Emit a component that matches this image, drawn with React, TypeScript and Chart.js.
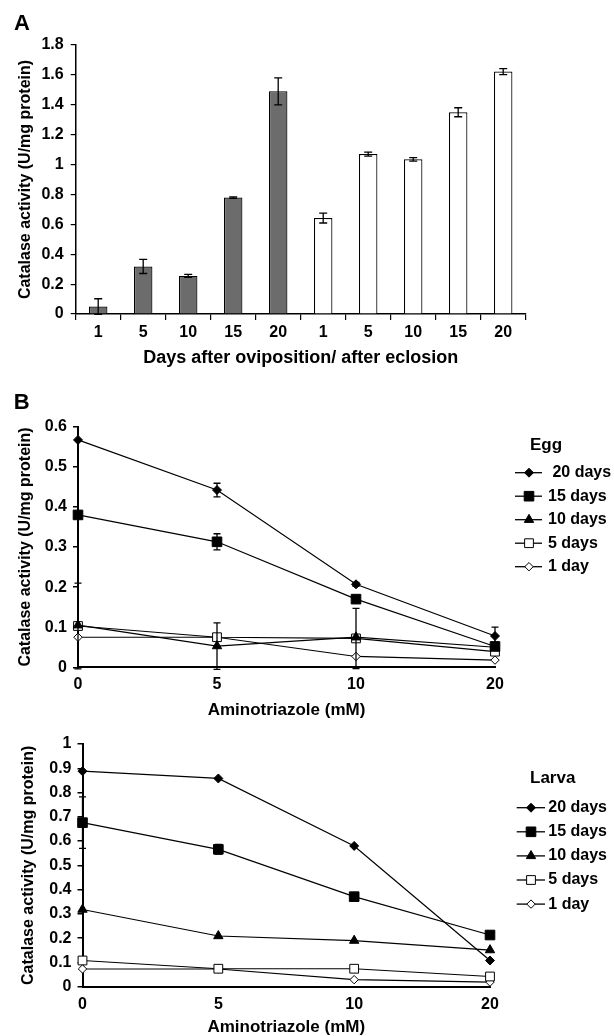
import React, { useEffect, useRef } from 'react';
import { Chart, registerables } from 'chart.js';

Chart.register(...registerables);

const FONT = "'Liberation Sans', Arial, Helvetica, sans-serif";

// ---------- Panel A data ----------
const dayLabels = ['1', '5', '10', '15', '20', '1', '5', '10', '15', '20'];
const stageGroup = ['egg', 'egg', 'egg', 'egg', 'egg', 'adult', 'adult', 'adult', 'adult', 'adult'];
const activityA = [0.05, 0.318, 0.255, 0.779, 1.49, 0.642, 1.07, 1.035, 1.35, 1.622];
const errorA = [0.052, 0.047, 0.01, 0.005, 0.09, 0.033, 0.013, 0.012, 0.03, 0.02];

// ---------- Panel B data ----------
const doseLabels = ['0', '5', '10', '20'];
const seriesNames = ['20 days', '15 days', '10 days', '5 days', '1 day'];
const eggLegendNames = [' 20 days', '15 days', '10 days', '5 days', '1 day'];

const egg20 = [0.567, 0.442, 0.207, 0.078];
const egg15 = [0.38, 0.313, 0.17, 0.052];
const egg10 = [0.105, 0.053, 0.075, 0.05];
const egg5 = [0.103, 0.075, 0.072, 0.039];
const egg1 = [0.075, 0.075, 0.027, 0.018];

const egg20Err = [0, 0.017, 0.005, 0.022];
const egg15Err = [0, 0.02, 0, 0.008];
const egg10Err = [0, 0.058, 0, 0];
const egg5Err = [0.107, 0, 0.075, 0];
const egg1Err = [0, 0, 0, 0];

const larva20 = [0.888, 0.858, 0.58, 0.108];
const larva15 = [0.676, 0.566, 0.371, 0.213];
const larva10 = [0.318, 0.209, 0.19, 0.151];
const larva5 = [0.108, 0.074, 0.074, 0.042];
const larva1 = [0.073, 0.073, 0.029, 0.019];

const larva20Err = [0, 0, 0, 0];
const larva15Err = [0.106, 0.02, 0, 0];
const larva10Err = [0, 0, 0, 0];
const larva5Err = [0, 0, 0, 0];
const larva1Err = [0, 0, 0, 0];

// marker styles per series
const pointStyles = ['rectRot', 'rect', 'triangle', 'rect', 'rectRot'];
const pointFilled = [true, true, true, false, false];
const pointRadii = [4.5, 6.8, 5.4, 6.2, 4.2];

const fmt = (v: any) => String(Math.round(Number(v) * 10) / 10);

function drawMarker(ctx: CanvasRenderingContext2D, style: string, x: number, y: number, r: number, filled: boolean) {
  ctx.beginPath();
  if (style === 'rectRot') {
    ctx.moveTo(x, y - r);
    ctx.lineTo(x + r, y);
    ctx.lineTo(x, y + r);
    ctx.lineTo(x - r, y);
    ctx.closePath();
  } else if (style === 'rect') {
    const s = r * Math.SQRT1_2;
    ctx.rect(x - s, y - s, 2 * s, 2 * s);
  } else {
    for (let k = 0; k < 3; k++) {
      const a = (k * 2 * Math.PI) / 3;
      const px = x + Math.sin(a) * r;
      const py = y - Math.cos(a) * r;
      if (k === 0) ctx.moveTo(px, py);
      else ctx.lineTo(px, py);
    }
    ctx.closePath();
  }
  ctx.fillStyle = filled ? '#000' : '#fff';
  ctx.fill();
  ctx.lineWidth = 1;
  ctx.strokeStyle = '#000';
  ctx.stroke();
}

const errorBarPlugin = {
  id: 'errorBars',
  afterDatasetsDraw(chart: any, _args: any, opts: any) {
    const ctx = chart.ctx;
    const yScale = chart.scales.y;
    const cap = opts.cap ?? 4;
    chart.data.datasets.forEach((ds: any, di: number) => {
      const errs = ds.errors;
      if (!errs) return;
      const meta = chart.getDatasetMeta(di);
      meta.data.forEach((el: any, i: number) => {
        const e = errs[i];
        if (!e) return;
        const v = ds.data[i];
        const x = el.x;
        const yTop = yScale.getPixelForValue(v + e);
        const yBot = yScale.getPixelForValue(v - e);
        ctx.save();
        ctx.strokeStyle = '#000';
        ctx.lineWidth = opts.width ?? 1.3;
        ctx.beginPath();
        ctx.moveTo(x, yTop);
        ctx.lineTo(x, yBot);
        ctx.moveTo(x - cap, yTop);
        ctx.lineTo(x + cap, yTop);
        ctx.moveTo(x - cap, yBot);
        ctx.lineTo(x + cap, yBot);
        ctx.stroke();
        ctx.restore();
      });
    });
  },
};

const annotatePlugin = {
  id: 'annotate',
  afterDraw(chart: any, _args: any, opts: any) {
    const ctx = chart.ctx;
    ctx.save();
    if (opts.panel) {
      ctx.font = `bold ${opts.panel.size}px ${FONT}`;
      ctx.fillStyle = '#000';
      ctx.textAlign = 'center';
      ctx.textBaseline = 'middle';
      ctx.fillText(opts.panel.text, opts.panel.x, opts.panel.y);
    }
    const lg = opts.legend;
    if (lg) {
      ctx.font = `bold ${lg.titleSize}px ${FONT}`;
      ctx.fillStyle = '#000';
      ctx.textAlign = 'left';
      ctx.textBaseline = 'middle';
      ctx.fillText(lg.title, lg.titleX, lg.titleY);
      chart.data.datasets.forEach((ds: any, i: number) => {
        const y = lg.rowY + i * lg.rowGap;
        ctx.strokeStyle = '#000';
        ctx.lineWidth = 1.3;
        ctx.beginPath();
        ctx.moveTo(lg.lineX1, y);
        ctx.lineTo(lg.lineX2, y);
        ctx.stroke();
        drawMarker(ctx, ds.pointStyle, lg.markerX, y, ds.pointRadius, ds.pointBackgroundColor === '#000');
        ctx.font = `bold ${lg.textSize}px ${FONT}`;
        ctx.fillStyle = '#000';
        ctx.textAlign = 'left';
        ctx.textBaseline = 'middle';
        ctx.fillText(lg.names[i], lg.textX, y);
      });
    }
    ctx.restore();
  },
};

const tickFont = { family: FONT, size: 16, weight: 'bold' as const };

function barConfig(): any {
  return {
    type: 'bar',
    data: {
      labels: dayLabels,
      datasets: [
        {
          data: activityA,
          errors: errorA,
          backgroundColor: stageGroup.map((g) => (g === 'egg' ? '#6c6c6c' : '#ffffff')),
          borderColor: '#000',
          borderWidth: 1.2,
          barPercentage: 0.41,
          categoryPercentage: 1,
        },
      ],
    },
    options: {
      responsive: false,
      animation: false,
      layout: { padding: { left: 0, top: 45, right: 88.3, bottom: 0 } },
      plugins: {
        legend: { display: false },
        tooltip: { enabled: false },
        errorBars: { cap: 4, width: 1.3 },
        annotate: { panel: { text: 'A', x: 22, y: 24, size: 22 } },
      },
      scales: {
        x: {
          grid: { display: true, drawOnChartArea: false, offset: true, tickLength: 6, color: '#000', lineWidth: 1.2 },
          border: { display: true, color: '#000', width: 1.5 },
          ticks: { color: '#000', font: tickFont, padding: 3.4, maxRotation: 0, autoSkip: false },
          title: {
            display: true,
            text: 'Days after oviposition/ after eclosion',
            color: '#000',
            font: { family: FONT, size: 18, weight: 'bold', lineHeight: 1 },
            padding: { top: 0, bottom: 3 },
          },
          afterFit(s: any) {
            s.height = 56;
          },
        },
        y: {
          min: 0,
          max: 1.8,
          ticks: { stepSize: 0.2, color: '#000', font: tickFont, padding: 7, callback: fmt },
          grid: { display: true, drawOnChartArea: false, tickLength: 5, color: '#000', lineWidth: 1.2 },
          border: { display: true, color: '#000', width: 1.5 },
          title: {
            display: true,
            text: 'Catalase activity (U/mg protein)',
            color: '#000',
            font: { family: FONT, size: 16, weight: 'bold', lineHeight: 1.2 },
            padding: { top: 16.4, bottom: 0 },
          },
          afterFit(s: any) {
            s.width = 75.7;
          },
        },
      },
    },
  };
}

function lineDatasets(values: number[][], errors: number[][]) {
  return values.map((vals, i) => ({
    label: seriesNames[i],
    data: vals,
    errors: errors[i],
    borderColor: '#000',
    borderWidth: 1.2,
    tension: 0,
    pointStyle: pointStyles[i],
    pointRadius: pointRadii[i],
    pointBackgroundColor: pointFilled[i] ? '#000' : '#fff',
    pointBorderColor: '#000',
    pointBorderWidth: 1,
    clip: false,
  }));
}

function lineConfig(p: any): any {
  return {
    type: 'line',
    data: { labels: doseLabels, datasets: lineDatasets(p.values, p.errors) },
    options: {
      responsive: false,
      animation: false,
      layout: { padding: { left: 0, top: p.top, right: p.right, bottom: 0 } },
      plugins: {
        legend: { display: false },
        tooltip: { enabled: false },
        errorBars: { cap: 3.5, width: 1.3 },
        annotate: { panel: p.panel, legend: p.legend },
      },
      scales: {
        x: {
          type: 'category',
          offset: false,
          grid: { display: true, drawOnChartArea: false, drawTicks: false, color: '#000' },
          border: { display: true, color: '#000', width: 2 },
          ticks: { color: '#000', font: tickFont, padding: p.xTickPad, maxRotation: 0, autoSkip: false },
          title: {
            display: true,
            text: 'Aminotriazole (mM)',
            color: '#000',
            font: { family: FONT, size: 17, weight: 'bold', lineHeight: 1 },
            padding: { top: 0, bottom: p.xTitlePad },
          },
          afterFit(s: any) {
            s.height = p.xHeight;
          },
        },
        y: {
          min: 0,
          max: p.yMax,
          ticks: { stepSize: 0.1, color: '#000', font: tickFont, padding: 6, callback: fmt },
          grid: { display: true, drawOnChartArea: false, tickLength: 5, color: '#000', lineWidth: 1.5 },
          border: { display: true, color: '#000', width: 2 },
          title: {
            display: true,
            text: 'Catalase activity (U/mg protein)',
            color: '#000',
            font: { family: FONT, size: 16, weight: 'bold', lineHeight: 1.2 },
            padding: { top: p.yTitlePad, bottom: 0 },
          },
          afterFit(s: any) {
            s.width = p.left;
          },
        },
      },
    },
  };
}

function ChartCanvas({ makeConfig, width, height, top }: any) {
  const ref = useRef<HTMLCanvasElement | null>(null);
  useEffect(() => {
    if (!ref.current) return;
    const chart = new Chart(ref.current, { ...makeConfig(), plugins: [errorBarPlugin, annotatePlugin] });
    return () => chart.destroy();
  }, []);
  return (
    <canvas
      ref={ref}
      width={width}
      height={height}
      style={{ position: 'absolute', left: 0, top, width, height, display: 'block' }}
    />
  );
}

export default function App() {
  const eggConfig = () =>
    lineConfig({
      values: [egg20, egg15, egg10, egg5, egg1],
      errors: [egg20Err, egg15Err, egg10Err, egg5Err, egg1Err],
      top: 56.7,
      right: 119,
      left: 78,
      xHeight: 54.7,
      xTickPad: 8.1,
      xTitlePad: 3.5,
      yTitlePad: 16.4,
      yMax: 0.6,
      panel: { text: 'B', x: 21.6, y: 33, size: 22 },
      legend: {
        title: 'Egg',
        titleX: 530,
        titleY: 75,
        titleSize: 17,
        rowY: 102.7,
        rowGap: 23.5,
        lineX1: 515,
        lineX2: 542,
        markerX: 529,
        textX: 548,
        textSize: 16,
        names: eggLegendNames,
      },
    });
  const larvaConfig = () =>
    lineConfig({
      values: [larva20, larva15, larva10, larva5, larva1],
      errors: [larva20Err, larva15Err, larva10Err, larva5Err, larva1Err],
      top: 22,
      right: 124,
      left: 82.5,
      xHeight: 49.3,
      xTickPad: 8.7,
      xTitlePad: 0,
      yTitlePad: 19.4,
      yMax: 1,
      panel: null,
      legend: {
        title: 'Larva',
        titleX: 530,
        titleY: 56,
        titleSize: 17,
        rowY: 85.7,
        rowGap: 24.1,
        lineX1: 516.7,
        lineX2: 545,
        markerX: 531,
        textX: 548.3,
        textSize: 16,
        names: seriesNames,
      },
    });
  return (
    <div style={{ position: 'absolute', left: 0, top: 0, width: 614, height: 1036, background: '#fff', overflow: 'hidden' }}>
      <ChartCanvas makeConfig={barConfig} width={614} height={370} top={0} />
      <ChartCanvas makeConfig={eggConfig} width={614} height={352} top={370} />
      <ChartCanvas makeConfig={larvaConfig} width={614} height={314} top={722} />
    </div>
  );
}
